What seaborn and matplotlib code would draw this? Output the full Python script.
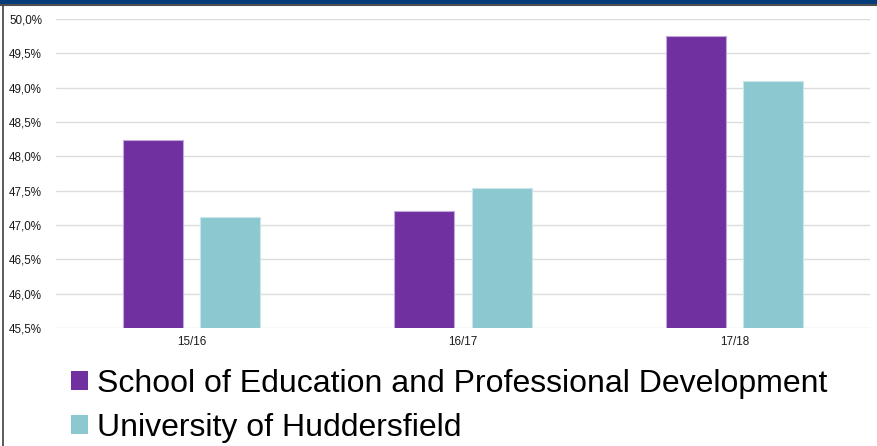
import matplotlib
matplotlib.use("Agg")
import matplotlib.pyplot as plt
import seaborn as sns
import pandas as pd
from matplotlib.patches import Patch, Rectangle
from matplotlib.lines import Line2D
from matplotlib.ticker import FuncFormatter

# Data
years = ["15/16", "16/17", "17/18"]
school = [48.24, 47.20, 49.75]
university = [47.12, 47.54, 49.09]
series_names = ["School of Education and Professional Development", "University of Huddersfield"]
colors = ["#7030A0", "#8CC8D0"]
edge_colors = ["#C3A6DA", "#C9E6EA"]

df = pd.DataFrame({
    "year": years * 2,
    "value": school + university,
    "series": [series_names[0]] * 3 + [series_names[1]] * 3,
})

sns.set_theme(style="white")
plt.rcParams["font.family"] = ["Liberation Sans", "DejaVu Sans"]
plt.rcParams["text.color"] = "black"

W, H = 878, 446
fig = plt.figure(figsize=(W / 100, H / 100), dpi=100)
ax = fig.add_axes([56 / W, (H - 328) / H, 814 / W, 309 / H])

sns.barplot(data=df, x="year", y="value", hue="series", palette=colors,
            width=0.568, gap=0.222, ax=ax, legend=False, saturation=1)

for bar_container, ec in zip(ax.containers, edge_colors):
    for p in bar_container:
        p.set_edgecolor(ec)
        p.set_linewidth(0.8)

ax.set_ylim(45.5, 50.0)
ax.set_xlim(-0.5, 2.5)
ax.set_yticks([45.5 + 0.5 * i for i in range(10)])
ax.yaxis.set_major_formatter(FuncFormatter(lambda v, p: f"{v:.1f}".replace(".", ",") + "%"))
ax.grid(axis="y", color="#DCDCDC", linewidth=1.0)
ax.set_axisbelow(True)
for s in ax.spines.values():
    s.set_visible(False)
ax.tick_params(axis="both", length=0, labelsize=8.4, colors="#000000", labelcolor="#1a1a1a")
ax.tick_params(axis="y", pad=10)
ax.tick_params(axis="x", pad=6)
ax.set_xlabel("")
ax.set_ylabel("")

# Legend
handles = [Patch(facecolor=c, edgecolor="none") for c in colors]
leg = fig.legend(handles, series_names, loc="upper left",
                 bbox_to_anchor=(71 / W, 1 - 369 / H), frameon=False,
                 fontsize=23.0, handlelength=0.53, handleheight=0.53,
                 handletextpad=0.28, labelspacing=0.43, borderpad=0, borderaxespad=0)
for t in leg.get_texts():
    t.set_color("black")

# Frame decorations
fig.add_artist(Rectangle((0, 1 - 4 / H), 1, 4 / H, transform=fig.transFigure,
                         facecolor="#053C7C", edgecolor="none"))
fig.add_artist(Line2D([0, 1], [1 - 5 / H, 1 - 5 / H], transform=fig.transFigure,
                      color="#505050", linewidth=1.5))
fig.add_artist(Line2D([3 / W, 3 / W], [0, 1 - 5 / H], transform=fig.transFigure,
                      color="#404040", linewidth=1.2))

fig.savefig("out.png", dpi=100)
